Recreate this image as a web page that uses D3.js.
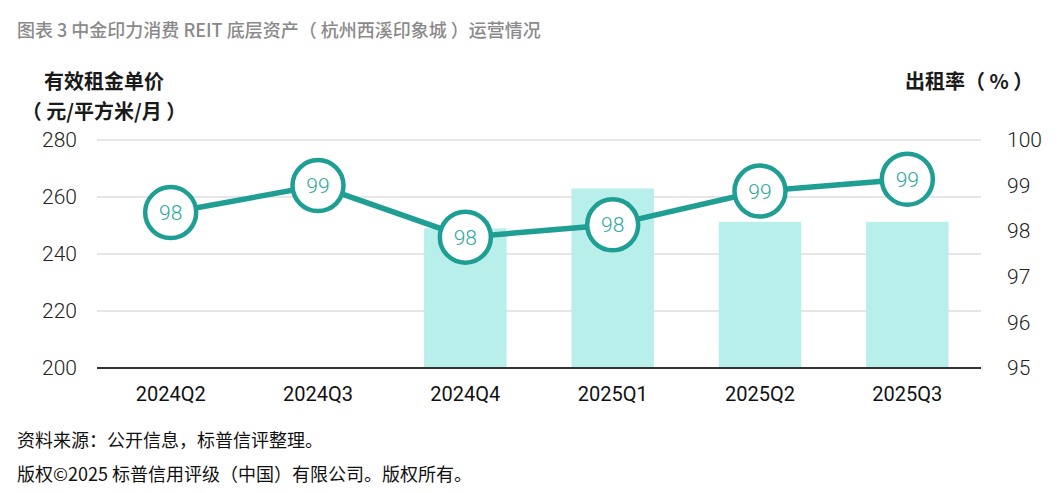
<!DOCTYPE html>
<html><head><meta charset="utf-8">
<script src="https://cdn.jsdelivr.net/npm/d3@7"></script>
<style>
body{margin:0;background:#fff;}
svg{display:block;font-family:"Noto Sans CJK SC","Noto Sans",sans-serif;}
</style></head>
<body><svg id="c" width="1061" height="493"></svg>
<script>
const categories = ["2024Q2","2024Q3","2024Q4","2025Q1","2025Q2","2025Q3"];
const rentValues = [null, null, 249, 263, 251.3, 251.3];
const occupancyValues = [98.41, 99.0, 97.87, 98.14, 98.88, 99.14];
const leftTicks = [200, 220, 240, 260, 280];
const rightTicks = [95, 96, 97, 98, 99, 100];
const titleText = "图表 3 中金印力消费 REIT 底层资产（ 杭州西溪印象城 ）运营情况";
const leftAxisTitle = ["有效租金单价", "（ 元/平方米/月 ）"];
const rightAxisTitle = "出租率（ % ）";
const footnotes = ["资料来源：公开信息，标普信评整理。", "版权©2025 标普信用评级（中国）有限公司。版权所有。"];

const svg = d3.select("#c");
const m = {left:97, right:981, top:140, bottom:368};
const x = d3.scaleBand().domain(categories).range([m.left, m.right]).paddingInner(0.44).paddingOuter(0.22);
const yL = d3.scaleLinear().domain([200,280]).range([m.bottom, m.top]);
const yR = d3.scaleLinear().domain([95,100]).range([m.bottom, m.top]);
const teal = "#1f9e93";
const numFont = "Roboto, 'Noto Sans', sans-serif";

// title
svg.append("text").attr("x",17).attr("y",37).attr("font-size",18).attr("font-weight",500)
  .attr("fill","#8a8a8a").text(titleText);
svg.append("text").attr("x",104).attr("y",89).attr("text-anchor","middle").attr("font-size",20).attr("font-weight",700).attr("fill","#1a1a1a").text(leftAxisTitle[0]);
svg.append("text").attr("x",104).attr("y",119).attr("text-anchor","middle").attr("font-size",20).attr("font-weight",700).attr("fill","#1a1a1a").text(leftAxisTitle[1]);
svg.append("text").attr("x",905).attr("y",89).attr("font-size",20).attr("font-weight",700).attr("fill","#1a1a1a").text(rightAxisTitle);

// gridlines
svg.append("g").selectAll("line").data(leftTicks.slice(1)).join("line")
  .attr("x1",m.left).attr("x2",m.right).attr("y1",d=>yL(d)).attr("y2",d=>yL(d))
  .attr("stroke","#e6e6e6").attr("stroke-width",2);

// left axis
const gl = svg.append("g").attr("transform",`translate(${m.left},0)`)
  .call(d3.axisLeft(yL).tickValues(leftTicks).tickSize(0).tickPadding(20));
gl.select(".domain").remove();
gl.selectAll("text").attr("font-family",numFont).attr("font-weight",300).attr("font-size",21).attr("fill","#222");

// right axis
const gr = svg.append("g").attr("transform",`translate(${m.right},0)`)
  .call(d3.axisRight(yR).tickValues(rightTicks).tickFormat(d3.format("d")).tickSize(0).tickPadding(26));
gr.select(".domain").remove();
gr.selectAll("text").attr("font-family",numFont).attr("font-weight",300).attr("font-size",21).attr("fill","#222");

// bars
svg.append("g").selectAll("rect").data(categories.map((c,i)=>({c,v:rentValues[i]})).filter(d=>d.v!=null)).join("rect")
  .attr("x",d=>x(d.c)).attr("width",x.bandwidth())
  .attr("y",d=>yL(d.v)).attr("height",d=>yL(200)-yL(d.v))
  .attr("fill","#b8efeb");

// baseline
svg.append("line").attr("x1",m.left).attr("x2",m.right).attr("y1",m.bottom).attr("y2",m.bottom)
  .attr("stroke","#333").attr("stroke-width",2);

// x axis labels
const gx = svg.append("g").attr("transform",`translate(0,${m.bottom})`)
  .call(d3.axisBottom(x).tickSize(0).tickPadding(19));
gx.select(".domain").remove();
gx.selectAll("text").attr("font-family",numFont).attr("font-weight",400).attr("font-size",20).attr("fill","#111");

// line
const pts = categories.map((c,i)=>({c,v:occupancyValues[i]}));
const cx = d=>x(d.c)+x.bandwidth()/2;
svg.append("path").datum(pts)
  .attr("d",d3.line().x(cx).y(d=>yR(d.v)))
  .attr("fill","none").attr("stroke",teal).attr("stroke-width",5.5);
const g = svg.append("g").selectAll("g").data(pts).join("g")
  .attr("transform",d=>`translate(${cx(d)},${yR(d.v)})`);
g.append("circle").attr("r",25.5).attr("fill","#fff").attr("stroke",teal).attr("stroke-width",4.5);
g.append("text").attr("text-anchor","middle").attr("dy","0.36em")
  .attr("font-family",numFont).attr("font-weight",300).attr("font-size",21)
  .attr("fill","#2aa89c").text(d=>Math.round(d.v));

// footnotes
svg.append("text").attr("x",17).attr("y",447).attr("font-size",18).attr("fill","#111").text(footnotes[0]);
svg.append("text").attr("x",17).attr("y",481).attr("font-size",18).attr("fill","#111").text(footnotes[1]);
</script></body></html>
